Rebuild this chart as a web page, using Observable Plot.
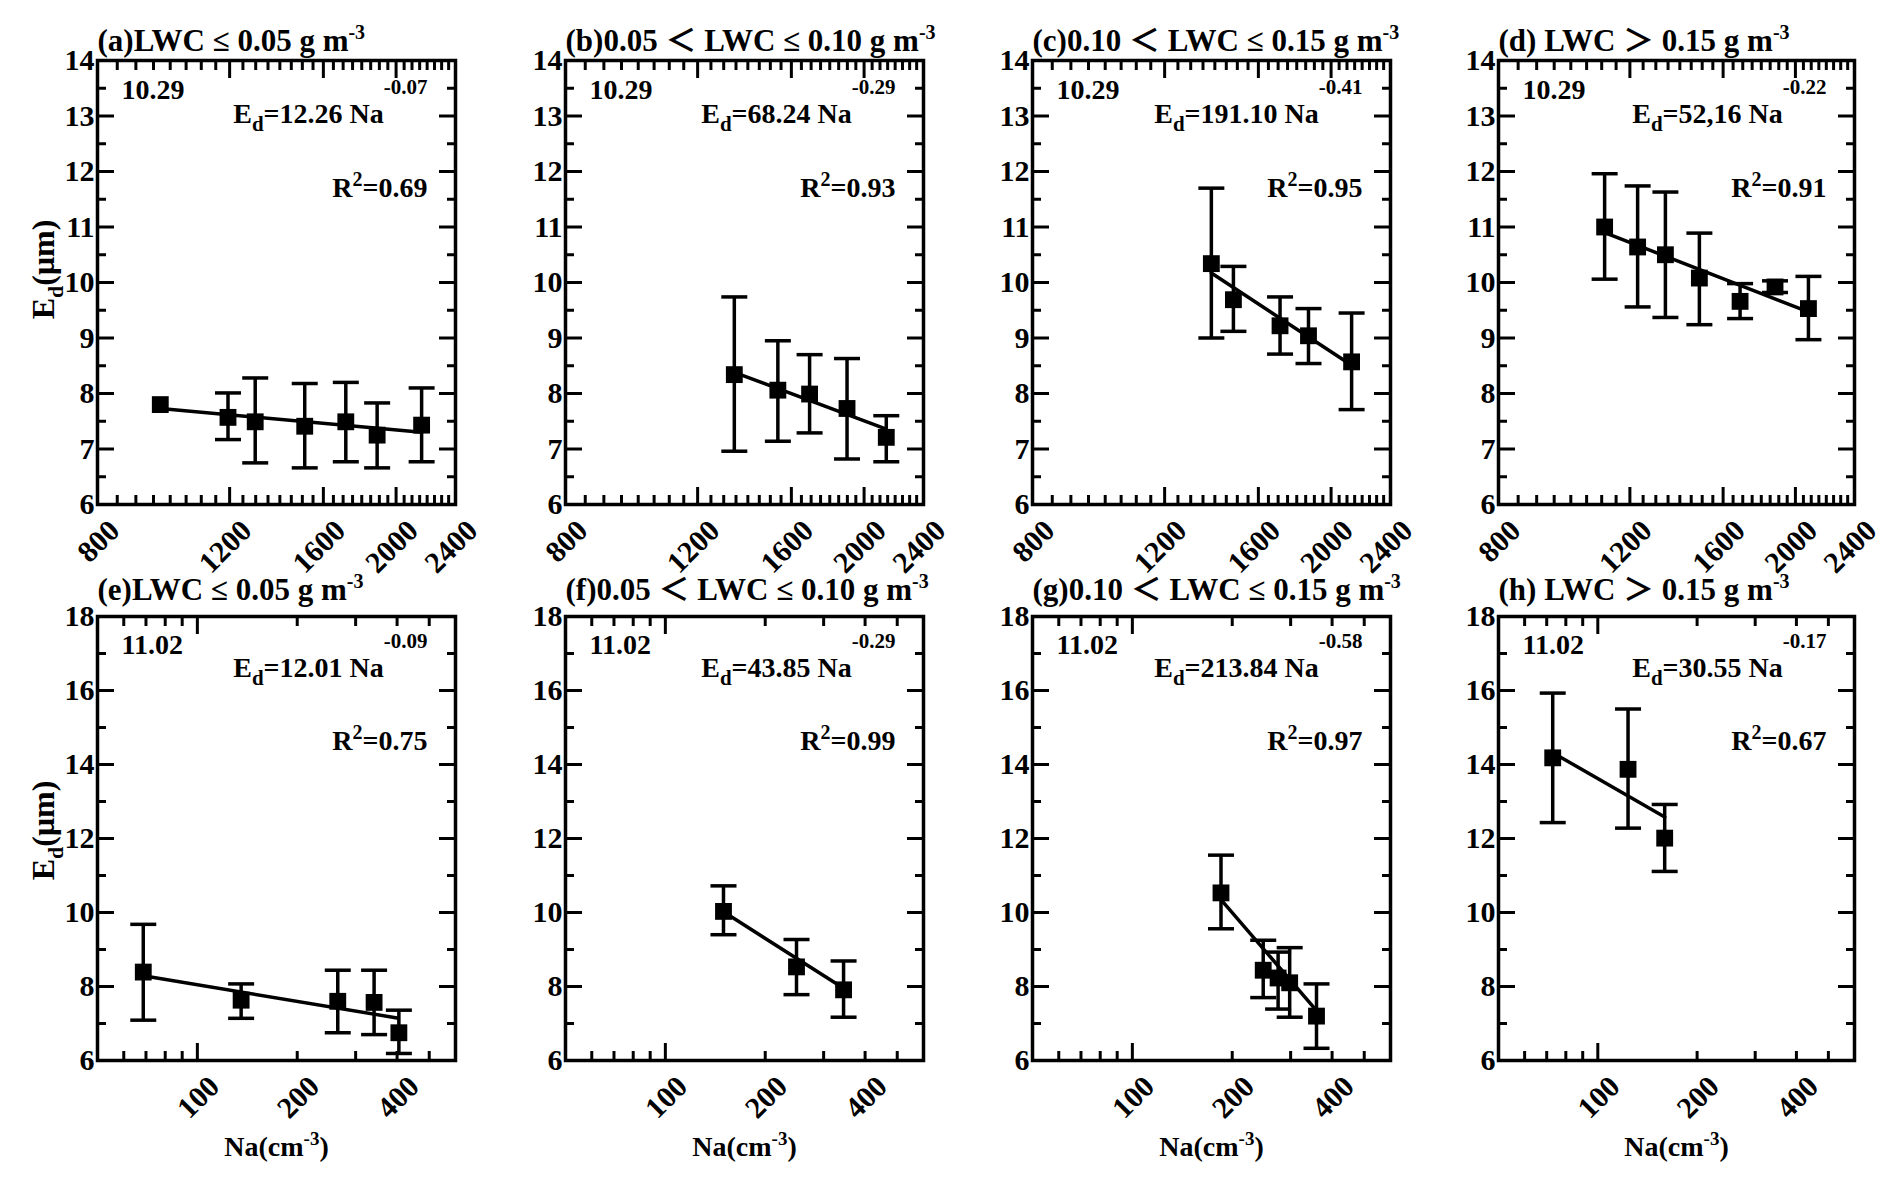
<!DOCTYPE html>
<html>
<head>
<meta charset="utf-8">
<script src="https://cdn.jsdelivr.net/npm/d3@7"></script>
<script src="https://cdn.jsdelivr.net/npm/@observablehq/plot@0.6"></script>
<style>
  body { margin: 0; background: white; }
  #chart { position: relative; width: 1892px; height: 1183px; overflow: hidden; }
  .panel { position: absolute; }
</style>
</head>
<body>
<div id="chart"></div>
<script>
// ---- values ----
const titles = [
  "(a)LWC ≤ 0.05 g m^{-3}", "(b)0.05 ＜ LWC ≤ 0.10 g m^{-3}",
  "(c)0.10 ＜ LWC ≤ 0.15 g m^{-3}", "(d) LWC ＞ 0.15 g m^{-3}",
  "(e)LWC ≤ 0.05 g m^{-3}", "(f)0.05 ＜ LWC ≤ 0.10 g m^{-3}",
  "(g)0.10 ＜ LWC ≤ 0.15 g m^{-3}", "(h) LWC ＞ 0.15 g m^{-3}"
];
const dates = ["10.29", "11.02"];
const formulas = [
  "E_{d}=12.26 Na^{-0.07}", "E_{d}=68.24 Na^{-0.29}", "E_{d}=191.10 Na^{-0.41}", "E_{d}=52,16 Na^{-0.22}",
  "E_{d}=12.01 Na^{-0.09}", "E_{d}=43.85 Na^{-0.29}", "E_{d}=213.84 Na^{-0.58}", "E_{d}=30.55 Na^{-0.17}"
];
const r2 = ["0.69", "0.93", "0.95", "0.91", "0.75", "0.99", "0.97", "0.67"];

// (a) 10.29, LWC <= 0.05
const naA = [970, 1194, 1298, 1511, 1714, 1887, 2163];
const edA = [7.80, 7.57, 7.49, 7.41, 7.49, 7.25, 7.43];
const hiA = [null, 8.01, 8.28, 8.18, 8.20, 7.83, 8.10];
const loA = [null, 7.17, 6.75, 6.66, 6.77, 6.66, 6.77];
const fitA = [[970, 2163], [7.73, 7.30]];
// (b)
const naB = [1343, 1535, 1692, 1898, 2141];
const edB = [8.34, 8.06, 7.99, 7.73, 7.21];
const hiB = [9.74, 8.95, 8.70, 8.63, 7.60];
const loB = [6.96, 7.14, 7.29, 6.82, 6.77];
const fitB = [[1343, 2141], [8.38, 7.36]];
// (c)
const naC = [1385, 1482, 1710, 1866, 2130];
const edC = [10.34, 9.69, 9.22, 9.04, 8.57];
const hiC = [11.70, 10.29, 9.74, 9.53, 9.45];
const loC = [9.00, 9.12, 8.71, 8.54, 7.71];
const fitC = [[1385, 2130], [10.17, 8.51]];
// (d)
const naD = [1110, 1229, 1339, 1487, 1686, 1878, 2082];
const edD = [11.00, 10.64, 10.50, 10.08, 9.66, 9.92, 9.53];
const hiD = [11.96, 11.74, 11.63, 10.89, 9.98, 10.03, 10.11];
const loD = [10.06, 9.56, 9.37, 9.24, 9.35, 9.82, 8.97];
const fitD = [[1110, 2082], [10.90, 9.47]];
// (e) 11.02
const naE = [68.7, 135.5, 265, 341, 405];
const edE = [8.39, 7.63, 7.60, 7.57, 6.75];
const hiE = [9.68, 8.07, 8.44, 8.44, 7.36];
const loE = [7.09, 7.14, 6.75, 6.70, 6.19];
const fitE = [[68.7, 400], [8.29, 7.15]];
// (f)
const naF = [149.7, 248.5, 344.5];
const edF = [10.03, 8.53, 7.91];
const hiF = [10.72, 9.27, 8.69];
const loF = [9.40, 7.78, 7.17];
const fitF = [[149.7, 344.5], [10.02, 7.95]];
// (g)
const naG = [185, 248, 275, 298, 359];
const edG = [10.53, 8.44, 8.23, 8.10, 7.20];
const hiG = [11.55, 9.25, 8.93, 9.05, 8.07];
const loG = [9.56, 7.70, 7.39, 7.17, 6.33];
const fitG = [[185, 359], [10.35, 7.35]];
// (h)
const naH = [73, 123.5, 159.5];
const edH = [14.18, 13.87, 12.01];
const hiH = [15.93, 15.50, 12.92];
const loH = [12.43, 12.28, 11.11];
const fitH = [[73, 159.5], [14.32, 12.58]];

const series = [
  [naA, edA, hiA, loA, fitA], [naB, edB, hiB, loB, fitB],
  [naC, edC, hiC, loC, fitC], [naD, edD, hiD, loD, fitD],
  [naE, edE, hiE, loE, fitE], [naF, edF, hiF, loF, fitF],
  [naG, edG, hiG, loG, fitG], [naH, edH, hiH, loH, fitH]
];

// axis ticks
const topXDomain = [800, 2400];
const topXLabels = [800, 1200, 1600, 2000, 2400];
const topXMajor = [1200, 1600, 2000];
const topXMinor = [850, 900, 950, 1000, 1050, 1100, 1150, 1250, 1300, 1350, 1400, 1450, 1500, 1550,
  1650, 1700, 1750, 1800, 1850, 1900, 1950, 2050, 2100, 2150, 2200, 2250, 2300, 2350];
const topYDomain = [6, 14];
const topYMajor = [6, 7, 8, 9, 10, 11, 12, 13, 14];
const topYMinor = [6.5, 7.5, 8.5, 9.5, 10.5, 11.5, 12.5, 13.5];

const botXDomain = [50, 600];
const botXLabels = [100, 200, 400];
const botXMajor = [100];
const botXMinor = [60, 70, 80, 90, 200, 300, 400, 500];
const botYDomain = [6, 18];
const botYMajor = [6, 8, 10, 12, 14, 16, 18];
const botYMinor = [7, 9, 11, 13, 15, 17];

const yLabel = "E_{d}(μm)";
const xLabel = "Na(cm^{-3})";

// ---- layout ----
const colLeft = [97, 565, 1032, 1498];
const colWidth = [358, 358, 358, 356];
const rowTop = [60, 616];
const frameH = 444;
const mL = 97, mR = 40, mT = 60, mB = 110;
const font = "'Liberation Serif', 'Noto Sans CJK SC', serif";
const titleDy = [-10, -17], dateDy = [38, 37], formulaDy = [62, 60], r2Dy = [136, 133], yLabelDy = [-13, -8];

const capSymbol = {
  draw(ctx, size) {
    const w = Math.sqrt(size / Math.PI);
    ctx.moveTo(-w, 0);
    ctx.lineTo(w, 0);
  }
};

// script sizes / shifts for each kind of rich text
const scriptStyles = [
  {test: (s) => s.startsWith("E_{d}="), size: 21, raise: 29, drop: 8},
  {test: (s) => s.startsWith("E_{d}("), size: 22, drop: 9},
  {test: (s) => s.startsWith("R^"), size: 20, raise: 11},
  {test: (s) => s.startsWith("Na("), size: 19, raise: 11},
  {test: (s) => s.startsWith("("), size: 20, raise: 12}
];

// turn _{..} and ^{..} into sub/superscript tspans
function richText(svg) {
  svg.querySelectorAll("text").forEach((el) => {
    const src = el.textContent;
    if (!/[_^]\{/.test(src)) return;
    const {size, raise = 0, drop = 0} = scriptStyles.find((c) => c.test(src));
    el.textContent = "";
    const re = /([_^])\{([^}]*)\}/g;
    let last = 0, shift = 0, m;
    const span = (s, fs, dy) => {
      const t = document.createElementNS("http://www.w3.org/2000/svg", "tspan");
      if (fs) t.setAttribute("font-size", fs);
      if (dy) t.setAttribute("dy", dy);
      t.textContent = s;
      el.appendChild(t);
    };
    while ((m = re.exec(src))) {
      if (m.index > last) { span(src.slice(last, m.index), null, -shift); shift = 0; }
      const d = m[1] === "^" ? -raise : drop;
      span(m[2], size, d - shift);
      shift = d;
      last = re.lastIndex;
    }
    if (last < src.length) span(src.slice(last), null, -shift);
  });
}

function panel(i) {
  const top = i < 4;
  const r = top ? 0 : 1;
  const [na, ed, hi, lo, fit] = series[i];
  const pts = na.map((x, j) => ({na: x, ed: ed[j], hi: hi[j], lo: lo[j]}));
  const bars = pts.filter((d) => d.hi != null);
  const line = fit[0].map((x, j) => ({na: x, ed: fit[1][j]}));

  const xMajor = top ? topXMajor : botXMajor;
  const xMinor = top ? topXMinor : botXMinor;
  const yMajor = top ? topYMajor : botYMajor;
  const yMinor = top ? topYMinor : botYMinor;
  const blank = () => "";
  const tk = {strokeWidth: 3, tickFormat: blank, label: null};

  const marks = [
    // inward ticks on all four sides
    Plot.axisY({...tk, ticks: yMajor, anchor: "left", tickSize: 17, dx: 17}),
    Plot.axisY({...tk, ticks: yMinor, anchor: "left", tickSize: 9, dx: 9}),
    Plot.axisY({...tk, ticks: yMajor, anchor: "right", tickSize: 17, dx: -17}),
    Plot.axisY({...tk, ticks: yMinor, anchor: "right", tickSize: 9, dx: -9}),
    Plot.axisX({...tk, ticks: xMajor, anchor: "bottom", tickSize: 17, dy: -17}),
    Plot.axisX({...tk, ticks: xMinor, anchor: "bottom", tickSize: 9, dy: -9}),
    Plot.axisX({...tk, ticks: xMajor, anchor: "top", tickSize: 17, dy: 17}),
    Plot.axisX({...tk, ticks: xMinor, anchor: "top", tickSize: 9, dy: 9}),
    // tick labels
    Plot.axisY({ticks: yMajor, anchor: "left", tickSize: 0, tickPadding: 3, fontSize: 30,
      tickFormat: (d) => `${d}`, label: null}),
    Plot.axisX({ticks: top ? topXLabels : botXLabels, anchor: "bottom", tickSize: 0, tickPadding: 0,
      tickRotate: -45, textAnchor: "end", lineAnchor: "middle", dx: 17, dy: 21, fontSize: 30,
      tickFormat: (d) => `${d}`, label: null}),
    Plot.frame({stroke: "black", strokeWidth: 3.5}),
    // error bars
    Plot.ruleX(bars, {x: "na", y1: "lo", y2: "hi", stroke: "black", strokeWidth: 3.5}),
    Plot.dot(bars, {x: "na", y: "hi", symbol: capSymbol, r: 13, stroke: "black", strokeWidth: 3.5, fill: "none"}),
    Plot.dot(bars, {x: "na", y: "lo", symbol: capSymbol, r: 13, stroke: "black", strokeWidth: 3.5, fill: "none"}),
    // fitted power law
    Plot.line(line, {x: "na", y: "ed", stroke: "black", strokeWidth: 3.5}),
    Plot.dot(pts, {x: "na", y: "ed", symbol: "square", r: 9.5, fill: "black"}),
    // texts
    Plot.text([titles[i]], {text: (d) => d, frameAnchor: "top-left", dy: titleDy[r], textAnchor: "start",
      lineAnchor: "bottom", fontSize: 31}),
    Plot.text([dates[r]], {text: (d) => d, frameAnchor: "top-left", dx: 24, dy: dateDy[r], textAnchor: "start",
      lineAnchor: "bottom", fontSize: 28}),
    Plot.text([formulas[i]], {text: (d) => d, frameAnchor: "top-right", dx: -28, dy: formulaDy[r], textAnchor: "end",
      lineAnchor: "bottom", fontSize: 28}),
    Plot.text([`R^{2}=${r2[i]}`], {text: (d) => d, frameAnchor: "top-right", dx: -28, dy: r2Dy[r], textAnchor: "end",
      lineAnchor: "bottom", fontSize: 28})
  ];
  if (i % 4 === 0) {
    marks.push(Plot.text([yLabel], {text: (d) => d, frameAnchor: "left", dx: -44, dy: yLabelDy[r], rotate: -90,
      textAnchor: "middle", lineAnchor: "bottom", fontSize: 32}));
  }
  if (!top) {
    marks.push(Plot.text([xLabel], {text: (d) => d, frameAnchor: "bottom", dy: 95, textAnchor: "middle",
      lineAnchor: "bottom", fontSize: 28}));
  }

  const svg = Plot.plot({
    width: mL + colWidth[i % 4] + mR,
    height: mT + frameH + mB,
    marginLeft: mL, marginRight: mR, marginTop: mT, marginBottom: mB,
    x: {type: "log", domain: top ? topXDomain : botXDomain, label: null},
    y: {domain: top ? topYDomain : botYDomain, label: null},
    style: {background: "transparent", overflow: "visible", fontFamily: font, fontWeight: "bold",
      color: "black", maxWidth: "none"},
    marks
  });

  richText(svg);

  const div = document.createElement("div");
  div.className = "panel";
  div.style.left = `${colLeft[i % 4] - mL}px`;
  div.style.top = `${rowTop[r] - mT}px`;
  div.appendChild(svg);
  document.getElementById("chart").appendChild(div);
}

for (let i = 0; i < 8; ++i) panel(i);
</script>
</body>
</html>
